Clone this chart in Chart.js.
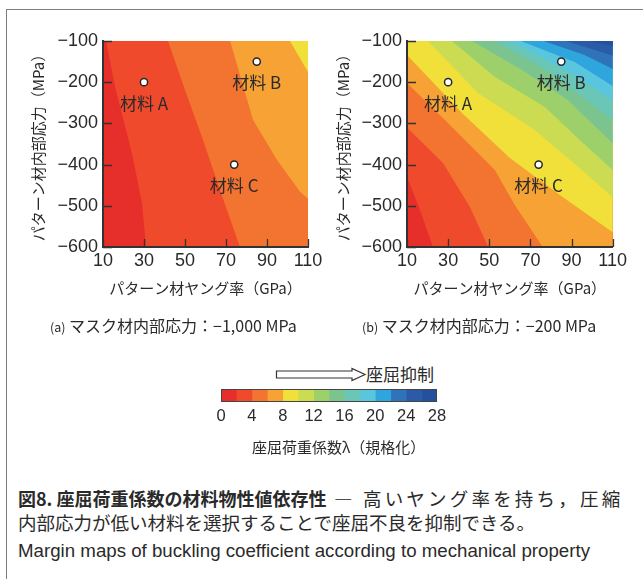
<!DOCTYPE html>
<html lang="ja">
<head>
<meta charset="utf-8">
<script src="https://cdn.jsdelivr.net/npm/chart.js@4/dist/chart.umd.min.js"></script>
<style>
  html, body { margin: 0; padding: 0; background: #fff; }
  body { width: 643px; height: 579px; position: relative; overflow: hidden;
         font-family: "Noto Sans CJK JP", "Noto Sans", sans-serif; color: #2a2a2a; }
  .abs { position: absolute; white-space: nowrap; }
  .frame-top  { left: 6px; top: 9px; width: 637px; height: 0; border-top: 1.5px solid #7d7d7d; }
  .frame-left { left: 6px; top: 9px; width: 0; height: 570px; border-left: 1.5px solid #7d7d7d; }
  .sub { font-size: 16px; line-height: 20px; top: 315px; }
  .sub small { font-size: 12.5px; }
  .cap-ja { left: 18px; font-size: 18.5px; line-height: 24px; }
  .cap-ja b { font-weight: 700; font-size: 18px; }
  .cap-ja .spread { letter-spacing: 3.2px; }
  .cap-en { left: 18px; top: 540px; font-family: "Liberation Sans", Arial, sans-serif;
            font-size: 18.7px; line-height: 22px; }
</style>
</head>
<body>
<div class="abs frame-top"></div>
<div class="abs frame-left"></div>

<canvas id="mapA" class="abs" style="left:0;top:20px" width="330" height="300"></canvas>
<canvas id="mapB" class="abs" style="left:300px;top:20px" width="330" height="300"></canvas>

<div class="abs sub" style="left:50px"><small>(a)</small> マスク材内部応力：−1,000 MPa</div>
<div class="abs sub" style="left:362px"><small>(b)</small> マスク材内部応力：−200 MPa</div>

<svg class="abs" style="left:275px;top:367px" width="92" height="15">
  <polygon points="1.5,4 77,4 77,1.5 90,7.5 77,13.5 77,11 1.5,11"
           fill="#fff" stroke="#333" stroke-width="1.2"/>
</svg>
<div class="abs" style="left:366px;top:363px;font-size:17px;line-height:22px">座屈抑制</div>

<canvas id="colorbar" class="abs" style="left:180px;top:380px" width="300" height="60"></canvas>
<div class="abs" style="left:252px;top:437px;font-size:15px;line-height:20px">座屈荷重係数λ（規格化）</div>

<div class="abs cap-ja" style="top:486px"><b>図8. 座屈荷重係数の材料物性値依存性</b><span class="spread"> ― 高いヤング率を持ち，圧縮</span></div>
<div class="abs cap-ja" style="top:510px">内部応力が低い材料を選択することで座屈不良を抑制できる。</div>
<div class="abs cap-en">Margin maps of buckling coefficient according to mechanical property</div>

<script>
// ---- axes ----
const modulusTicks = [10, 30, 50, 70, 90, 110];             // pattern Young's modulus, GPa
const stressTicks = [-100, -200, -300, -400, -500, -600];   // pattern internal stress, MPa

// ---- buckling coefficient classes (normalised λ) ----
const lambdaLevels = [0, 2, 4, 6, 8, 10, 12, 14, 16, 18, 20, 22, 24, 26, 28];
const bandColors = ['#e62e2b', '#ef4a2c', '#f27430', '#f6a234', '#f1df3a', '#cbdc52', '#9dcf6b',
                    '#7cc48f', '#6ac6b6', '#5ac6dd', '#2ea5dc', '#2f74b9', '#2b5aa8', '#24509c'];
const colorbarTicks = [0, 4, 8, 12, 16, 20, 24, 28];

// ---- materials ----
const materialNames = ['材料 A', '材料 B', '材料 C'];
const materialModulus = [30, 85, 74];
const materialStress = [-200, -150, -400];

// ---- (a) mask stress −1,000 MPa : iso-λ lines ----
const isoLevelsA = [2, 4, 6, 8];
const isoModulusA = [
  [11.5, 15.9, 24.1, 29.0, 31.0],
  [41.7, 50.0, 58.8, 67.1, 76.8],
  [72.0, 83.2, 94.9, 106.1, 110],
  [101.2, 110]
];
const isoStressA = [
  [-100, -212, -372, -493, -600],
  [-100, -219, -340, -462, -600],
  [-100, -292, -389, -466, -483],
  [-100, -175]
];

// ---- (b) mask stress −200 MPa : iso-λ lines ----
const isoLevelsB = [2, 4, 6, 8, 10, 12, 14, 16, 18, 20, 22, 24, 26];
const isoModulusB = [
  [10, 16.3, 22.6],
  [10, 27.5, 40.6, 49.5],
  [10, 28.4, 52.7, 62.4, 76],
  [10, 36.7, 60, 84.3, 110],
  [20.2, 44.5, 72.1, 95, 110],
  [31.8, 52.7, 77, 94, 110],
  [41.6, 65.8, 88.2, 110],
  [52.7, 79.4, 110],
  [60, 86.7, 110],
  [65.3, 91.5, 110],
  [76.5, 96.4, 110],
  [87.2, 101.3, 110],
  [98.8, 110]
];
const isoStressB = [
  [-430, -510, -600],
  [-310, -396, -503, -600],
  [-202, -292, -413, -498, -600],
  [-134, -275, -384, -474, -564],
  [-100, -226, -316, -413, -479],
  [-100, -187, -260, -340, -413],
  [-100, -170, -243, -348],
  [-100, -175, -292],
  [-100, -170, -243],
  [-100, -151, -209],
  [-100, -134, -168],
  [-100, -122, -136],
  [-100, -112]
];

const INK = '#2a2a2a';
const CJK = '"Noto Sans CJK JP", "Noto Sans", sans-serif';
const LATIN = '"Liberation Sans", Arial, sans-serif';
const minus = v => String(v).replace('-', '\u2212');

// lowest class fills the whole plotting area
const baseFill = {
  id: 'baseFill',
  beforeDatasetsDraw(chart) {
    const a = chart.chartArea, ctx = chart.ctx;
    ctx.save();
    ctx.fillStyle = bandColors[0];
    ctx.fillRect(a.left, a.top, a.right - a.left, a.bottom - a.top);
    ctx.restore();
  }
};

// tick marks pointing into the plot, and the material names
const mapDecor = {
  id: 'mapDecor',
  afterDatasetsDraw(chart) {
    const ctx = chart.ctx, a = chart.chartArea;
    const sx = chart.scales.x, sy = chart.scales.y;
    ctx.save();
    ctx.strokeStyle = '#333';
    ctx.lineWidth = 1.3;
    ctx.beginPath();
    modulusTicks.forEach(v => {
      const x = Math.round(sx.getPixelForValue(v)) + 0.5;
      ctx.moveTo(x, a.bottom); ctx.lineTo(x, a.bottom - 8);
    });
    stressTicks.forEach(v => {
      const y = Math.round(sy.getPixelForValue(v)) + 0.5;
      ctx.moveTo(a.left, y); ctx.lineTo(a.left + 9, y);
    });
    ctx.stroke();
    ctx.fillStyle = INK;
    ctx.font = '17px ' + CJK;
    ctx.textAlign = 'center';
    ctx.textBaseline = 'middle';
    materialNames.forEach((name, i) => {
      const x = sx.getPixelForValue(materialModulus[i]);
      const y = sy.getPixelForValue(materialStress[i]);
      ctx.fillText(name, x, y + 21);
    });
    ctx.restore();
  }
};

function mapChart(id, levels, isoModulus, isoStress, yAxisWidth, titlePad, rightPad) {
  const xMin = modulusTicks[0], xMax = modulusTicks[modulusTicks.length - 1];
  const yMax = stressTicks[0], yMin = stressTicks[stressTicks.length - 1];
  const datasets = [{
    data: materialModulus.map((e, i) => ({ x: e, y: materialStress[i] })),
    showLine: false, pointRadius: 3.6, pointHoverRadius: 3.6,
    pointBackgroundColor: '#fff', pointBorderColor: '#262626', pointBorderWidth: 1.5,
    order: -1
  }];
  levels.forEach((lv, k) => {
    const pts = isoModulus[k].map((e, i) => ({ x: e, y: isoStress[k][i] }));
    // close the region of λ ≥ lv around the outside of the plot (upper-right side)
    pts.push({ x: xMax + 40, y: yMin - 100 }, { x: xMax + 40, y: yMax + 100 }, { x: xMin - 10, y: yMax + 100 });
    datasets.push({
      data: pts, fill: 'shape', backgroundColor: bandColors[lambdaLevels.indexOf(lv)],
      borderWidth: 0, borderColor: 'rgba(0,0,0,0)', pointRadius: 0, pointHoverRadius: 0,
      tension: 0, order: levels.length - k
    });
  });
  return new Chart(document.getElementById(id), {
    type: 'line',
    data: { datasets },
    plugins: [baseFill, mapDecor],
    options: {
      responsive: false, animation: false, devicePixelRatio: 1, events: [],
      layout: { padding: { left: 0, right: rightPad, top: 21, bottom: 0 } },
      plugins: { legend: { display: false }, tooltip: { enabled: false } },
      scales: {
        x: {
          type: 'linear', min: xMin, max: xMax,
          afterBuildTicks: s => { s.ticks = modulusTicks.map(v => ({ value: v })); },
          afterFit: s => { s.height = 73; },
          grid: { display: false, drawTicks: false },
          border: { display: true, color: '#333', width: 2, z: 1 },
          ticks: { padding: 3, color: INK, font: { family: LATIN, size: 18 }, maxRotation: 0 },
          title: { display: true, text: 'パターン材ヤング率（GPa）', color: INK,
                   font: { family: CJK, size: 15 }, padding: { top: 0, bottom: 23 } }
        },
        y: {
          type: 'linear', min: yMin, max: yMax,
          afterBuildTicks: s => { s.ticks = stressTicks.map(v => ({ value: v })); },
          afterFit: s => { s.width = yAxisWidth; },
          grid: { display: false, drawTicks: false },
          border: { display: true, color: '#333', width: 2, z: 1 },
          ticks: { padding: 5, color: INK, font: { family: LATIN, size: 18 }, callback: minus },
          title: { display: true, text: 'パターン材内部応力（MPa）', color: INK,
                   font: { family: CJK, size: 15 }, padding: { top: titlePad, bottom: 0 } }
        }
      }
    }
  });
}

mapChart('mapA', isoLevelsA, isoModulusA, isoStressA, 103, 29.5, 22);
mapChart('mapB', isoLevelsB, isoModulusB, isoStressB, 107, 34.5, 17);

// ---- colour scale ----
const outline = {
  id: 'outline',
  afterDatasetsDraw(chart) {
    const a = chart.chartArea, ctx = chart.ctx;
    ctx.save();
    ctx.strokeStyle = '#444';
    ctx.lineWidth = 1;
    ctx.strokeRect(Math.round(a.left) + 0.5, Math.round(a.top) + 0.5,
                   Math.round(a.right - a.left) - 1, Math.round(a.bottom - a.top) - 1);
    ctx.restore();
  }
};

new Chart(document.getElementById('colorbar'), {
  type: 'bar',
  data: {
    labels: ['λ'],
    datasets: bandColors.map((c, i) => ({
      data: [lambdaLevels[i + 1] - lambdaLevels[i]], backgroundColor: c,
      borderWidth: 0, barPercentage: 1, categoryPercentage: 1
    }))
  },
  plugins: [outline],
  options: {
    indexAxis: 'y', responsive: false, animation: false, devicePixelRatio: 1, events: [],
    layout: { padding: { left: 41, right: 43, top: 9, bottom: 0 } },
    plugins: { legend: { display: false }, tooltip: { enabled: false } },
    scales: {
      x: {
        stacked: true, min: lambdaLevels[0], max: lambdaLevels[lambdaLevels.length - 1],
        afterBuildTicks: s => { s.ticks = colorbarTicks.map(v => ({ value: v })); },
        afterFit: s => { s.height = 38; },
        grid: { display: false, drawTicks: false },
        border: { display: false },
        ticks: { padding: 5, color: INK, font: { family: LATIN, size: 16.5 }, maxRotation: 0 }
      },
      y: { stacked: true, display: false }
    }
  }
});
</script>
</body>
</html>
